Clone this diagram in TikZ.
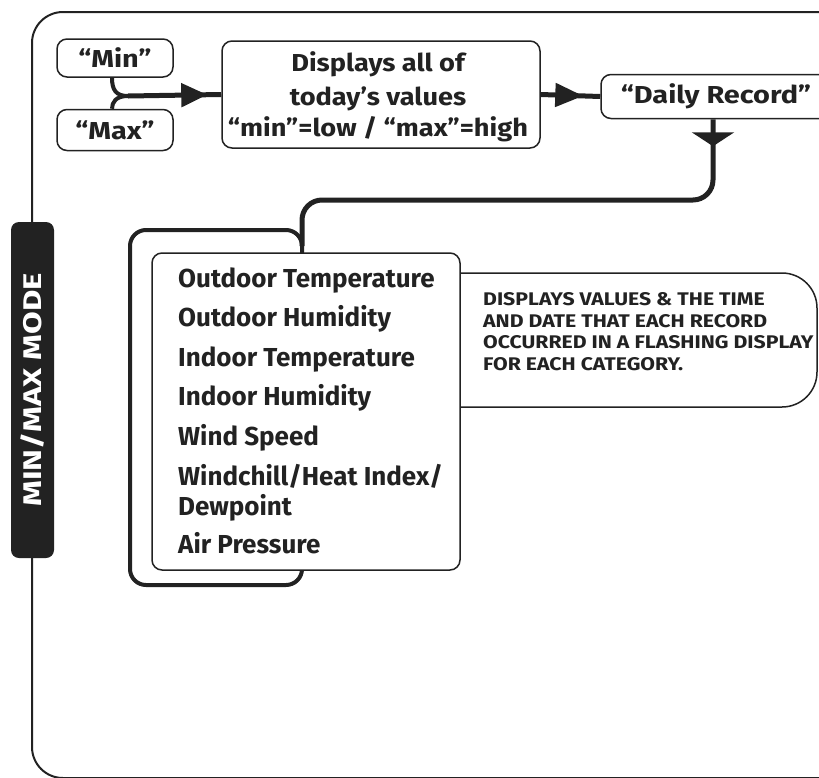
\documentclass[tikz,border=0pt]{standalone}
\usepackage{fontspec}
\setmainfont{Fira Sans}
\newfontfamily\fsA[FakeStretch=1.11]{Fira Sans}
\newfontfamily\fsB[FakeStretch=1.18]{Fira Sans}
\newfontfamily\fsC[FakeStretch=1.29]{Fira Sans}
\newfontfamily\fsD[FakeStretch=1.16]{Fira Sans}
\usetikzlibrary{arrows.meta,decorations.markings}
\definecolor{ink}{HTML}{222222}
\begin{document}
\begin{tikzpicture}[x=1pt,y=-1pt,
  box/.style={draw=ink, line width=1.5pt, rounded corners=10pt, fill=white, inner sep=0pt, align=center},
  frame/.style={draw=ink, line width=2pt},
  conn/.style={draw=ink, line width=5pt},
  listtxt/.style={font=\fontsize{26}{30}\selectfont\bfseries, anchor=base west, inner sep=0pt, text=ink},
  desctxt/.style={font=\fsD\fontsize{18.3}{22}\selectfont\bfseries, anchor=base west, inner sep=0pt, text=ink},
  boxfont/.style={font=\fsB\fontsize{24.5}{33}\selectfont\bfseries, text=ink},
  dispfont/.style={font=\fsA\fontsize{24.5}{33}\selectfont\bfseries, text=ink},
]
\useasboundingbox (0,0) rectangle (819,777);

% outer frame
\draw[frame, rounded corners=31pt] (860,778) -- (32,778) -- (32,12) -- (860,12);

% mode label
\node[fill=ink, rounded corners=8pt, rotate=90, minimum width=336pt, minimum height=43pt, inner sep=0pt,
      text=white, font=\fsC\fontsize{25.5}{28}\selectfont\bfseries] (mode) at (32.5,390) {MIN/MAX MODE};

% boxes of the top row
\node[box, boxfont, minimum width=116pt, minimum height=38pt] (min) at (115,58) {“Min”};
\node[box, boxfont, minimum width=116pt, minimum height=41pt] (max) at (115,130) {“Max”};
\node[box, minimum width=318pt, minimum height=107pt] (disp) at (381,94.5) {};
\node[box, boxfont, minimum width=230pt, minimum height=44pt] (daily) at (716,96.5) {“Daily Record”};

\node[dispfont, anchor=base, inner sep=0pt] (d1) at (378,71.5) {Displays all of};
\node[dispfont, anchor=base, inner sep=0pt] (d2) at (378,105) {today’s values};
\node[dispfont, anchor=base, inner sep=0pt] (d3) at (378,136.5) {“min”=low / “max”=high};

% connectors of the top row
\coordinate (bx) at (112,0);
\coordinate (j) at (128,96);
\draw[ink, line width=4pt] (min.south -| bx) .. controls (112,90) and (116,96) .. (j);
\draw[ink, line width=4pt] (max.north -| bx) .. controls (112,102) and (116,96) .. (j);
\draw[conn, postaction={decorate}, decoration={markings,
      mark=at position -14pt with {\arrow{Triangle[length=26pt,width=23pt]}}}] (j) -- (disp.west);
\draw[conn, postaction={decorate}, decoration={markings,
      mark=at position -17pt with {\arrow{Triangle[length=28pt,width=23pt]}}}] (disp.east) -- (daily.west);

% description box (behind list)
\node[draw=ink, line width=1.5pt, rounded corners=35pt, fill=white, minimum width=417pt, minimum height=134pt, inner sep=0pt] (desc) at (608.5,340) {};
\node[desctxt] (e1) at (483,305) {DISPLAYS VALUES \& THE TIME};
\node[desctxt] (e2) at (483,327) {AND DATE THAT EACH RECORD};
\node[desctxt] (e3) at (483,348.5) {OCCURRED IN A FLASHING DISPLAY};
\node[desctxt] (e4) at (483,370) {FOR EACH CATEGORY.};

% thick outer box of the list
\node[draw=ink, line width=4pt, rounded corners=16pt, minimum width=172pt, minimum height=355pt, inner sep=0pt] (back) at (216,407.5) {};

% connector from Daily Record down to the list
\coordinate (dx) at (713,0);
\coordinate (bk) at (302,246);
\draw[conn, rounded corners=20pt, postaction={decorate}, decoration={markings,
      mark=at position 27pt with {\arrow{Triangle[length=14pt,width=42pt]}}}]
  (daily.south -| dx) -- (713,200) -- (302,200) -- (bk);

% list box
\node[box, minimum width=308pt, minimum height=317pt] (list) at (306,411.5) {};
\node[listtxt] (l1) at (178,287) {Outdoor Temperature};
\node[listtxt] (l2) at (178,326.5) {Outdoor Humidity};
\node[listtxt] (l3) at (178,366.5) {Indoor Temperature};
\node[listtxt] (l4) at (178,405) {Indoor Humidity};
\node[listtxt] (l5) at (178,445) {Wind Speed};
\node[listtxt] (l6) at (178,485) {Windchill/Heat Index/};
\node[listtxt] (l7) at (178,515) {Dewpoint};
\node[listtxt] (l8) at (178,553) {Air Pressure};
\end{tikzpicture}
\end{document}
